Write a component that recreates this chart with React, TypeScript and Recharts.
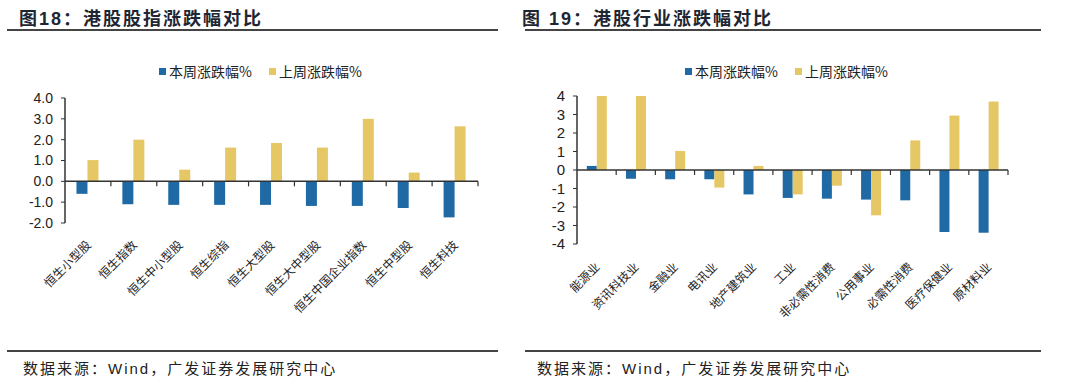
import React from "react";
import { BarChart, Bar, XAxis, YAxis, ReferenceLine, Legend } from "recharts";

const leftCategories = ["恒生小型股", "恒生指数", "恒生中小型股", "恒生综指", "恒生大型股", "恒生大中型股", "恒生中国企业指数", "恒生中型股", "恒生科技"];
const leftThisWeek = [-0.6, -1.1, -1.13, -1.13, -1.13, -1.18, -1.18, -1.28, -1.73];
const leftLastWeek = [1.02, 2.0, 0.56, 1.62, 1.84, 1.62, 3.0, 0.42, 2.64];
const leftTicks = [-2, -1, 0, 1, 2, 3, 4];

const rightCategories = ["能源业", "资讯科技业", "金融业", "电讯业", "地产建筑业", "工业", "非必需性消费", "公用事业", "必需性消费", "医疗保健业", "原材料业"];
const rightThisWeek = [0.22, -0.47, -0.5, -0.5, -1.32, -1.51, -1.55, -1.6, -1.64, -3.35, -3.39];
const rightLastWeek = [4.0, 4.0, 1.03, -0.95, 0.22, -1.32, -0.85, -2.45, 1.6, 2.94, 3.7];
const rightTicks = [-4, -3, -2, -1, 0, 1, 2, 3, 4];

const seriesNames = ["本周涨跌幅%", "上周涨跌幅%"];
const BLUE = "#1f6aa5";
const YELLOW = "#e6c766";
const seriesColors = [BLUE, YELLOW];
const AXIS = "#333";
const CJK = "'Noto Sans CJK SC', sans-serif";
const LATIN = "'Liberation Sans', Arial, 'Noto Sans CJK SC', sans-serif";

const toRows = (cats: string[], a: number[], b: number[]) =>
  cats.map((name, i) => ({ name, thisWeek: a[i], lastWeek: b[i] }));

// legend kept in series order (recharts sorts payload by name otherwise)
const LegendBox = () => (
  <div style={{ display: "flex", alignItems: "center", fontFamily: CJK, fontSize: 14, color: "#222" }}>
    {seriesNames.map((name, i) => (
      <div key={name} style={{ display: "flex", alignItems: "center", marginRight: 17 }}>
        <span style={{ width: 7, height: 7, background: seriesColors[i], display: "inline-block", marginRight: 3 }} />
        <span>{name}</span>
      </div>
    ))}
  </div>
);

const makeTick = (fontSize: number) => ({ x, y, payload }: any) => (
  <g transform={`translate(${x - 3},${y}) rotate(-45)`}>
    <text x={0} y={0} dy="0.8em" textAnchor="end" fontSize={fontSize} fill="#222" fontFamily={CJK}>
      {payload.value}
    </text>
  </g>
);

// zero axis with tick marks at the category boundaries
const zeroAxis = (count: number) => (props: any) => {
  const { x1, x2, y1 } = props;
  const step = (x2 - x1) / count;
  const marks = [];
  for (let i = 1; i <= count; i++) {
    const x = x1 + step * i;
    marks.push(<line key={i} x1={x} x2={x} y1={y1} y2={y1 + 5} stroke={AXIS} strokeWidth={1.2} />);
  }
  return (
    <g>
      <line x1={x1} x2={x2} y1={y1} y2={y1} stroke={AXIS} strokeWidth={1.5} />
      {marks}
    </g>
  );
};

function Panel({ cats, a, b, ticks, fmt, width, height, margin, yWidth, xHeight, legendLeft, yFont, xTickMargin }: any) {
  const data = toRows(cats, a, b);
  return (
    <BarChart width={width} height={height} data={data} margin={margin} barCategoryGap="25%" barGap={0}>
      <XAxis dataKey="name" interval={0} axisLine={false} tickLine={false} height={xHeight} tickMargin={xTickMargin} tick={makeTick(12)} />
      <YAxis
        width={yWidth}
        domain={[ticks[0], ticks[ticks.length - 1]]}
        ticks={ticks}
        interval={0}
        allowDataOverflow
        tickFormatter={fmt}
        axisLine={{ stroke: AXIS, strokeWidth: 1.5 }}
        tickLine={{ stroke: AXIS }}
        tickSize={4}
        tickMargin={8}
        tick={{ fill: "#222", fontSize: yFont, fontFamily: LATIN }}
      />
      <Legend
        verticalAlign="middle"
        align="center"
        content={<LegendBox />}
        wrapperStyle={{ top: 61, left: legendLeft, width: "auto" }}
      />
      <ReferenceLine y={0} shape={zeroAxis(cats.length)} />
      <Bar dataKey="thisWeek" name={seriesNames[0]} fill={BLUE} isAnimationActive={false} />
      <Bar dataKey="lastWeek" name={seriesNames[1]} fill={YELLOW} isAnimationActive={false} />
    </BarChart>
  );
}

const titleStyle: React.CSSProperties = {
  position: "absolute",
  top: 4,
  fontFamily: LATIN,
  fontWeight: 700,
  fontSize: 18,
  letterSpacing: 2,
  color: "#1e2633",
  whiteSpace: "nowrap",
};
const ruleStyle = (left: number, right: number, top: number): React.CSSProperties => ({
  position: "absolute",
  left,
  width: right - left,
  top,
  height: 2,
  background: "#444",
});
const sourceStyle: React.CSSProperties = {
  position: "absolute",
  top: 357,
  fontFamily: LATIN,
  fontSize: 15,
  letterSpacing: 2,
  color: "#222",
  whiteSpace: "nowrap",
};

export default function App() {
  return (
    <div style={{ position: "absolute", left: 0, top: 0, width: 1080, height: 389, background: "#fff", overflow: "hidden" }}>
      <div style={{ ...titleStyle, left: 19 }}>图18：港股股指涨跌幅对比</div>
      <div style={{ ...titleStyle, left: 522 }}>图 19：港股行业涨跌幅对比</div>
      <div style={ruleStyle(7, 498, 29)} />
      <div style={ruleStyle(525, 1041, 29)} />
      <div style={{ position: "absolute", left: 0, top: 0 }}>
        <Panel
          cats={leftCategories}
          a={leftThisWeek}
          b={leftLastWeek}
          ticks={leftTicks}
          fmt={(v: number) => v.toFixed(1)}
          width={500}
          height={340}
          margin={{ top: 98, right: 22, bottom: 7, left: 0 }}
          yWidth={65}
          xHeight={110}
          legendLeft={159}
          yFont={14}
          xTickMargin={10}
        />
      </div>
      <div style={{ position: "absolute", left: 500, top: 0 }}>
        <Panel
          cats={rightCategories}
          a={rightThisWeek}
          b={rightLastWeek}
          ticks={rightTicks}
          fmt={(v: number) => String(v)}
          width={530}
          height={340}
          margin={{ top: 96, right: 22, bottom: 6, left: 0 }}
          yWidth={77}
          xHeight={90}
          legendLeft={185}
          yFont={15}
          xTickMargin={11}
        />
      </div>
      <div style={ruleStyle(7, 498, 350)} />
      <div style={ruleStyle(525, 1041, 350)} />
      <div style={{ ...sourceStyle, left: 23 }}>数据来源：Wind，广发证券发展研究中心</div>
      <div style={{ ...sourceStyle, left: 537 }}>数据来源：Wind，广发证券发展研究中心</div>
    </div>
  );
}
